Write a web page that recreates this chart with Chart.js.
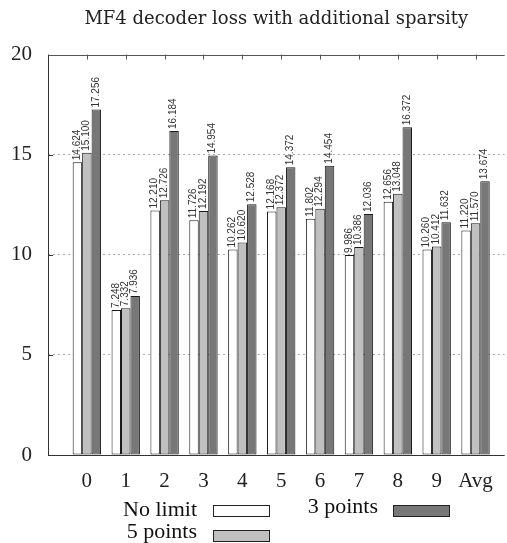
<!DOCTYPE html>
<html>
<head>
<meta charset="utf-8">
<script src="https://cdn.jsdelivr.net/npm/chart.js@4.4.1/dist/chart.umd.min.js"></script>
<style>
html,body{margin:0;padding:0;background:#fff;overflow:hidden;}
#wrap{width:507px;height:543px;}
</style>
</head>
<body>
<div id="wrap"><canvas id="c" width="507" height="543"></canvas></div>
<script>
const categories = ['0','1','2','3','4','5','6','7','8','9','Avg'];
const noLimit    = [14.624, 7.248, 12.210, 11.726, 10.262, 12.168, 11.802, 9.986, 12.656, 10.260, 11.220];
const fivePoints = [15.100, 7.332, 12.726, 12.192, 10.620, 12.372, 12.294, 10.386, 13.048, 10.412, 11.570];
const threePoints= [17.256, 7.936, 16.184, 14.954, 12.528, 14.372, 14.454, 12.036, 16.372, 11.632, 13.674];
const yTicks = [0, 5, 10, 15, 20];
const seriesNames = ['No limit', '5 points', '3 points'];

const SERIF = '"Liberation Serif", "DejaVu Serif", serif';
const TITLE_FONT = '"DejaVu Serif", "Liberation Serif", serif';
const toPts = arr => arr.map((v, i) => ({x: i, y: v}));

const frameAndTicks = {
  id: 'frameAndTicks',
  beforeDatasetsDraw(chart) {
    const {ctx, chartArea: a, scales} = chart;
    ctx.save();
    ctx.strokeStyle = '#333';
    ctx.lineWidth = 1;
    yTicks.forEach(t => {
      const y = Math.round(scales.y.getPixelForValue(t)) + 0.5;
      ctx.beginPath(); ctx.moveTo(a.left, y); ctx.lineTo(a.left + 5, y); ctx.stroke();
    });
    ctx.restore();
  },
  afterDatasetsDraw(chart) {
    const {ctx, chartArea: a, scales} = chart;
    ctx.save();
    ctx.strokeStyle = '#555';
    ctx.lineWidth = 1;
    const ty = Math.round(a.top) + 0.5;
    ctx.beginPath(); ctx.moveTo(a.left, ty); ctx.lineTo(a.right, ty); ctx.stroke();
    categories.forEach((c, i) => {
      const x = Math.round(scales.x.getPixelForValue(i)) + 0.5;
      ctx.beginPath(); ctx.moveTo(x, a.top); ctx.lineTo(x, a.top + 5); ctx.stroke();
    });
    ctx.strokeStyle = '#333';
    const lx = Math.round(a.left) + 0.5, by = Math.round(a.bottom) + 0.5;
    ctx.beginPath(); ctx.moveTo(lx, a.top); ctx.lineTo(lx, by); ctx.lineTo(a.right, by); ctx.stroke();

    ctx.fillStyle = '#333';
    ctx.font = '10px "Liberation Sans", Arial, sans-serif';
    ctx.textAlign = 'left';
    ctx.textBaseline = 'middle';
    chart.data.datasets.forEach((ds, di) => {
      const meta = chart.getDatasetMeta(di);
      meta.data.forEach((el, i) => {
        const v = ds.data[i].y;
        ctx.save();
        ctx.translate(el.x - 0.5, el.y - 2);
        ctx.rotate(-Math.PI / 2);
        ctx.fillText(v.toFixed(3), 0, 0);
        ctx.restore();
      });
    });
    ctx.restore();
  },
  afterDraw(chart) {
    const {ctx} = chart;
    const ds = chart.data.datasets;
    const layout = [
      [197, 510, 213, 505],
      [197, 532, 213, 530],
      [378, 507, 393, 505]
    ];
    ctx.save();
    ctx.font = '22px ' + SERIF;
    ctx.fillStyle = '#111';
    ctx.textAlign = 'right';
    ctx.textBaseline = 'middle';
    ds.forEach((d, i) => {
      const [tx, ty, bx, by] = layout[i];
      ctx.fillText(d.label, tx, ty);
      ctx.fillStyle = d.backgroundColor;
      ctx.fillRect(bx, by, 56, 11);
      ctx.strokeStyle = '#222';
      ctx.lineWidth = 1;
      ctx.strokeRect(bx + 0.5, by + 0.5, 56, 11);
      ctx.fillStyle = '#111';
    });
    ctx.restore();
  }
};

const colors = ['#ffffff', '#c0c0c0', '#777777'];
const seriesData = [noLimit, fivePoints, threePoints];

new Chart(document.getElementById('c'), {
  type: 'bar',
  data: {
    datasets: seriesData.map((arr, i) => ({
      label: seriesNames[i],
      data: toPts(arr),
      backgroundColor: colors[i],
      borderColor: '#1a1a1a',
      borderWidth: 1,
      borderSkipped: false,
      categoryPercentage: 0.73,
      barPercentage: 1.0
    }))
  },
  options: {
    responsive: false,
    animation: false,
    devicePixelRatio: 1,
    layout: {padding: {left: 0, right: 0, top: 0, bottom: 0}},
    plugins: {
      legend: {display: false},
      tooltip: {enabled: false},
      title: {
        display: true,
        fullSize: false,
        text: 'MF4 decoder loss with additional sparsity',
        color: '#222',
        font: {family: TITLE_FONT, size: 18, weight: 'normal'},
        padding: {top: 9, bottom: 24},
        align: 'center'
      }
    },
    scales: {
      x: {
        type: 'linear',
        min: -1,
        max: 10.75,
        offset: false,
        grid: {display: false, drawTicks: false},
        border: {display: false},
        ticks: {
          stepSize: 1,
          autoSkip: false,
          maxRotation: 0,
          includeBounds: false,
          padding: 14,
          color: '#222',
          font: {family: SERIF, size: 21},
          callback: v => (Number.isInteger(v) && v >= 0 && v < categories.length) ? categories[v] : ''
        },
        afterFit: s => { s.height = 88; }
      },
      y: {
        min: 0,
        max: 20,
        grid: {
          drawTicks: false,
          color: ctx => (ctx.tick && (ctx.tick.value === 0 || ctx.tick.value === 20)) ? 'rgba(0,0,0,0)' : '#aaaaaa',
          lineWidth: 1
        },
        border: {display: false, dash: [2, 3]},
        ticks: {
          stepSize: 5,
          padding: 16,
          color: '#222',
          font: {family: SERIF, size: 21},
          callback: v => yTicks.includes(v) ? String(v) : ''
        },
        afterFit: s => { s.width = 48; }
      }
    }
  },
  plugins: [frameAndTicks]
});
</script>
</body>
</html>
